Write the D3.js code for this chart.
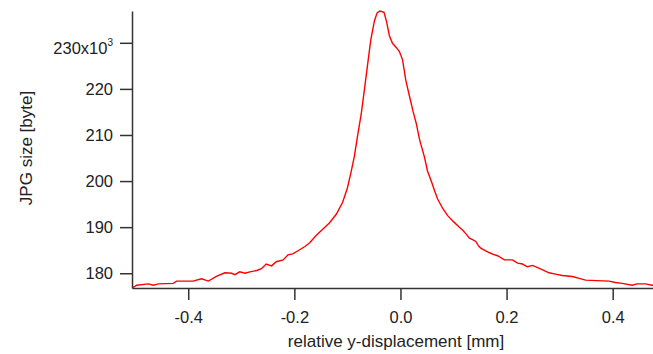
<!DOCTYPE html>
<html>
<head>
<meta charset="utf-8">
<script src="https://cdn.jsdelivr.net/npm/d3@7"></script>
<style>
  body { margin: 0; background: #fff; }
  text { font-family: "Liberation Sans", Arial, sans-serif; }
</style>
</head>
<body>
<div id="chart"></div>
<script>
// relative y-displacement [mm]
var displacement = [
  -0.506, -0.503, -0.497, -0.475, -0.466, -0.456, -0.428, -0.422, -0.391, -0.375,
  -0.362, -0.347, -0.331, -0.318, -0.312, -0.303, -0.293, -0.284, -0.271, -0.262,
  -0.253, -0.243, -0.234, -0.221, -0.212, -0.203, -0.190, -0.180, -0.171, -0.159,
  -0.146, -0.134, -0.121, -0.109, -0.100, -0.093, -0.087, -0.080, -0.074, -0.068,
  -0.062, -0.056, -0.049, -0.044, -0.039, -0.031, -0.026, -0.021, -0.015, -0.008,
  -0.002, 0.004, 0.010, 0.017, 0.024, 0.030, 0.036, 0.045, 0.051, 0.058,
  0.064, 0.070, 0.080, 0.089, 0.100, 0.110, 0.117, 0.124, 0.130, 0.136,
  0.142, 0.148, 0.152, 0.160, 0.167, 0.175, 0.183, 0.196, 0.211, 0.221,
  0.230, 0.239, 0.249, 0.265, 0.280, 0.292, 0.305, 0.324, 0.337, 0.349,
  0.370, 0.393, 0.405, 0.418, 0.437, 0.446, 0.462, 0.474, 0.476
];

// JPG size, in units of 10^3 byte
var jpgSize = [
  176.9, 177.0, 177.4, 177.7, 177.4, 177.7, 177.8, 178.3, 178.3, 178.8,
  178.3, 179.3, 180.1, 180.0, 179.7, 180.3, 180.0, 180.3, 180.6, 181.0,
  182.0, 181.6, 182.5, 182.9, 184.0, 184.2, 185.1, 185.8, 186.6, 188.2,
  189.6, 190.9, 192.8, 195.4, 198.5, 202.0, 205.3, 210.4, 214.5, 219.8,
  225.2, 230.6, 234.8, 236.5, 236.9, 236.6, 234.5, 231.6, 229.9, 229.0,
  228.1, 226.3, 221.9, 218.4, 215.0, 212.4, 209.0, 205.3, 202.2, 200.0,
  198.0, 196.1, 194.0, 192.5, 191.2, 190.1, 189.4, 188.5, 187.6, 187.3,
  186.9, 185.8, 185.4, 184.9, 184.5, 184.1, 183.8, 182.9, 182.9, 182.2,
  182.0, 181.4, 181.7, 180.9, 180.1, 179.8, 179.5, 179.3, 178.9, 178.5,
  178.4, 178.3, 178.0, 177.8, 177.4, 177.7, 177.7, 177.4, 177.4
];

var xTicks = [-0.4, -0.2, 0.0, 0.2, 0.4];
var yTicks = [180, 190, 200, 210, 220, 230];

var W = 653, H = 354;
var margin = { top: 11, right: 0, bottom: 66, left: 132 },
    width = W - margin.left - margin.right,
    height = H - margin.top - margin.bottom;

var x = d3.scaleLinear().domain([-0.506, 0.476]).range([0, width]);
var y = d3.scaleLinear().domain([176.8, 236.9]).range([height, 0]);

var svg = d3.select("#chart").append("svg")
    .attr("width", W)
    .attr("height", H);

var g = svg.append("g")
    .attr("transform", "translate(" + margin.left + "," + margin.top + ")");

g.append("clipPath").attr("id", "clip")
  .append("rect").attr("x", 0).attr("y", -2).attr("width", width).attr("height", height + 2);

var data = displacement.map(function (d, i) { return { x: d, y: jpgSize[i] }; });

var line = d3.line()
    .x(function (d) { return x(d.x); })
    .y(function (d) { return y(d.y); });

g.append("path")
    .datum(data)
    .attr("clip-path", "url(#clip)")
    .attr("fill", "none")
    .attr("stroke", "#ff0000")
    .attr("stroke-width", 1.4)
    .attr("d", line);

var fmtX = d3.format(".1f");

// x axis
var xAxis = g.append("g")
    .attr("transform", "translate(0," + height + ")")
    .call(d3.axisBottom(x).tickValues(xTicks).tickSize(12).tickSizeOuter(0).tickPadding(11)
        .tickFormat(function (d) { return fmtX(d).replace("\u2212", "-"); }));

// y axis
var yAxis = g.append("g")
    .call(d3.axisLeft(y).tickValues(yTicks).tickSize(12).tickSizeOuter(0).tickPadding(7));

[xAxis, yAxis].forEach(function (ax) {
    ax.select(".domain").attr("stroke", "#333").attr("stroke-width", 1.5);
    ax.selectAll(".tick line").attr("stroke", "#333").attr("stroke-width", 1.5);
    ax.selectAll(".tick text").attr("fill", "#222").style("font-size", "16.5px")
      .style("font-family", "'Liberation Sans', Arial, sans-serif");
});

// top label with the x10^3 multiplier
yAxis.selectAll(".tick text")
    .filter(function (d) { return d === 230; })
    .each(function () {
        var t = d3.select(this);
        t.text(null).attr("dy", "0.62em");
        t.append("tspan").text("230x10");
        t.append("tspan").attr("dy", "-0.8em").style("font-size", "10px").text("3");
    });

// axis titles
svg.append("text")
    .attr("x", 396)
    .attr("y", 347)
    .attr("text-anchor", "middle")
    .attr("fill", "#222")
    .style("font-size", "17px")
    .text("relative y-displacement [mm]");

svg.append("text")
    .attr("transform", "translate(32,148) rotate(-90)")
    .attr("text-anchor", "middle")
    .attr("fill", "#222")
    .style("font-size", "17px")
    .text("JPG size [byte]");
</script>
</body>
</html>
